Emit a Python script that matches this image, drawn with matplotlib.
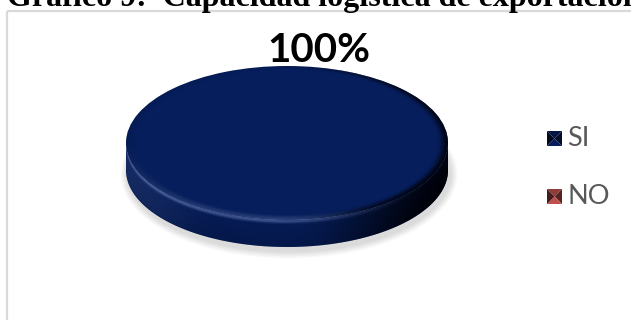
import numpy as np
import matplotlib
matplotlib.use("Agg")
import matplotlib.pyplot as plt
from matplotlib.patches import Wedge, Polygon, Rectangle, Ellipse
from matplotlib.transforms import Affine2D

# survey answers
labels = ["SI", "NO"]
values = [100, 0]
colors = ["#061e5c", "#c0504d"]
title = "Gráfico 9:  Capacidad logística de exportación"

# pie geometry, in pixels
cx, cy = 287, 143
rx, ry = 161, 77
th = 27

fig = plt.figure(figsize=(6.31, 3.20), dpi=100)
ax = fig.add_axes([0, 0, 1, 1])
ax.set_xlim(0, 631)
ax.set_ylim(320, 0)
ax.axis("off")

# chart frame
ax.add_patch(Rectangle((7, 11), 700, 400, fill=False, edgecolor="#d9d9d9", lw=1.6))
ax.text(7, 6, title, fontfamily="Liberation Serif", fontweight="bold",
        fontsize=23, va="baseline", ha="left")

# soft drop shadow under the disc
for k in range(12):
    grow = 2 + k * 1.2
    ax.add_patch(Ellipse((cx + 2, cy + th + 4), 2 * rx + grow, 2 * ry + grow,
                         facecolor="#808080", edgecolor="none", alpha=0.025, zorder=1))

ell = Affine2D().scale(rx, -ry).translate(cx, cy) + ax.transData

# pixel grid used for shading overlays
gx = np.arange(cx - rx - 2, cx + rx + 3, 0.5)
gy = np.arange(cy - ry - 2, cy + ry + th + 3, 0.5)
X, Y = np.meshgrid(gx, gy)
U = (X - cx) / rx
V = (Y - cy) / ry
R = np.sqrt(U ** 2 + V ** 2)
extent = (gx[0], gx[-1], gy[-1], gy[0])


def smooth(a, b, x):
    t = np.clip((x - a) / (b - a), 0, 1)
    return t * t * (3 - 2 * t)


# side shading: darker toward the right, bright rim line near the top edge
Uc = np.clip(U, -1, 1)
rim = cy + ry * np.sqrt(1 - Uc ** 2)
D = (Y - rim) / th
side_dark = 0.08 + 0.8 * smooth(0.0, 1.0, U) + 0.12 * D
side_light = 0.4 * np.exp(-((D - 0.07) / 0.07) ** 2) * (1 - smooth(-0.2, 0.9, U))
side_light += 0.12 * (1 - smooth(-1.0, -0.4, U)) * (D < 1)
# top shading: bevel along the outer edge
edge = smooth(0.93, 1.0, R)
top_dark = edge * (0.75 * smooth(-0.1, 0.9, U) + 0.1)
top_light = edge * 0.25 * np.clip(V, 0, 1) * (1 - smooth(0.0, 0.6, U))


def overlay(alpha, rgb):
    img = np.zeros(alpha.shape + (4,))
    img[..., :3] = rgb
    img[..., 3] = np.clip(alpha, 0, 1)
    return img


total = sum(values)
start = 90.0
for lab, val, col in zip(labels, values, colors):
    if val <= 0:
        continue
    sweep = 360.0 * val / total
    t1, t2 = start - sweep, start
    start = t1

    # front wall of the slice
    a = np.radians(np.linspace(t1, t2, 400))
    a = a[np.sin(a) <= 0.001] if sweep < 360 else np.radians(np.linspace(180, 360, 400))
    if len(a):
        px = cx + rx * np.cos(a)
        py = cy - ry * np.sin(a)
        pts = np.column_stack([np.r_[px, px[::-1]], np.r_[py, py[::-1] + th]])
        side = Polygon(pts, closed=True, facecolor=col, edgecolor="none", zorder=2)
        ax.add_patch(side)
        for alpha, rgb in ((side_dark, (0, 0, 0.02)), (side_light, (0.55, 0.65, 0.9))):
            im = ax.imshow(overlay(alpha, rgb), extent=extent, zorder=3,
                           interpolation="bilinear", aspect="auto")
            im.set_clip_path(side)

    # top face of the slice
    top = Wedge((0, 0), 1, t1, t2, facecolor=col, edgecolor="none",
                transform=ell, zorder=4)
    ax.add_patch(top)
    for alpha, rgb in ((top_dark, (0, 0, 0.02)), (top_light, (0.55, 0.65, 0.9))):
        im = ax.imshow(overlay(alpha, rgb), extent=extent, zorder=5,
                       interpolation="bilinear", aspect="auto")
        im.set_clip_path(top)

ax.set_xlim(0, 631)
ax.set_ylim(320, 0)

# data label
ax.text(319, 51, f"{values[0] / total:.0%}", fontfamily="Lato", fontweight="bold",
        fontsize=29, ha="center", va="center", zorder=6)


def legend_key(x, y, col, s=15):
    base = np.array(matplotlib.colors.to_rgb(col))
    dark = base * 0.45
    mid = base * 0.75
    c = (x + s / 2, y + s / 2)
    corners = [(x, y), (x + s, y), (x + s, y + s), (x, y + s)]
    shades = [mid, dark, base, dark * 0.8]
    for i in range(4):
        tri = [corners[i], corners[(i + 1) % 4], c]
        ax.add_patch(Polygon(tri, closed=True, facecolor=shades[i], edgecolor="none", zorder=6))


for i, (lab, col) in enumerate(zip(labels, colors)):
    ky = 131 + i * 58
    legend_key(547, ky, col)
    ax.text(567, ky + 8, lab, fontfamily="Lato", fontsize=19.5, color="#595959",
            ha="left", va="center")

fig.savefig("out.png", dpi=100)
